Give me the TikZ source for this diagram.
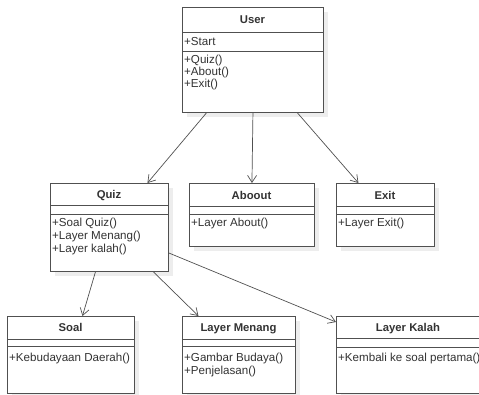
\documentclass[tikz,border=0pt]{standalone}
\usepackage{fontspec}
\setmainfont{Liberation Sans}
\usetikzlibrary{arrows.meta,shadows}
\definecolor{umlgray}{HTML}{505050}
\definecolor{umltxt}{HTML}{333333}

\begin{document}
\begin{tikzpicture}[x=1pt,y=-1pt,
    umlbox/.style={draw=umlgray, fill=white, line width=0.9pt, inner sep=0pt, anchor=north west,
      drop shadow={shadow xshift=5pt, shadow yshift=-5pt, fill=black!7, opacity=1}},
    umlsep/.style={draw=umlgray, line width=0.9pt},
    umltitle/.style={font=\fontsize{11.3}{13}\selectfont\bfseries, text=umltxt, anchor=base, inner sep=0pt},
    umltext/.style={font=\fontsize{11.6}{13}\selectfont, text=umltxt, anchor=base west, inner sep=0pt},
    assoc/.style={draw=umlgray, line width=0.7pt, -{Straight Barb[length=7pt,width=9pt]}}]

  \useasboundingbox (0,0) rectangle (479,394);

  % class boxes with their two separators
  \foreach \name/\xa/\ya/\xb/\yb/\sa/\sb in {user/182/7/323/112/32/51,
      quiz/50/183/168/271/205/214, about/189/183/314/246/206/214,
      exit/336/183/434/246/206/214, soal/7/316/134/393/339/346,
      menang/182/316/295/393/339/346, kalah/336/316/486/393/338/347} {
    \node[umlbox, minimum width=\xb-\xa, minimum height=\yb-\ya] (\name) at (\xa,\ya) {};
    \draw[umlsep] (\xa,\sa) -- (\xb,\sa);
    \draw[umlsep] (\xa,\sb) -- (\xb,\sb);
  }

  % titles
  \node[umltitle] (user-title) at (252.5,23) {User};
  \node[umltitle] (quiz-title) at (109,198) {Quiz};
  \node[umltitle] (about-title) at (251.5,199) {Aboout};
  \node[umltitle] (exit-title) at (385,199) {Exit};
  \node[umltitle] (soal-title) at (70.5,331) {Soal};
  \node[umltitle] (menang-title) at (238.5,331) {Layer Menang};
  \node[umltitle] (kalah-title) at (408,331) {Layer Kalah};

  % attributes and operations
  \node[umltext] (user-attr) at (184,45) {+Start};
  \node[umltext] (user-op1) at (184,63) {+Quiz()};
  \node[umltext] (user-op2) at (184,75) {+About()};
  \node[umltext] (user-op3) at (184,87) {+Exit()};
  \node[umltext] (quiz-op1) at (52,226) {+Soal Quiz()};
  \node[umltext] (quiz-op2) at (52,239) {+Layer Menang()};
  \node[umltext] (quiz-op3) at (52,252) {+Layer kalah()};
  \node[umltext] (about-op1) at (191,226) {+Layer About()};
  \node[umltext] (exit-op1) at (338,226) {+Layer Exit()};
  \node[umltext] (soal-op1) at (9,361) {+Kebudayaan Daerah()};
  \node[umltext] (menang-op1) at (184,361) {+Gambar Budaya()};
  \node[umltext] (menang-op2) at (184,374) {+Penjelasan()};
  \node[umltext] (kalah-op1) at (338,361) {+Kembali ke soal pertama()};

  % associations
  \draw[assoc] ([xshift=-46.5pt]user.south) -- ([xshift=38pt]quiz.north);
  \draw[assoc] (user.south) -- (about.north);
  \draw[assoc] ([xshift=44.5pt]user.south) -- ([xshift=-27pt]exit.north);
  \draw[assoc] ([xshift=-14pt]quiz.south) -- ([xshift=11.5pt]soal.north);
  \draw[assoc] ([xshift=44pt]quiz.south) -- ([xshift=-40.5pt]menang.north);
  \draw[assoc] ([yshift=-70pt]quiz.north east) -- ([yshift=-6pt]kalah.north west);
\end{tikzpicture}
\end{document}
